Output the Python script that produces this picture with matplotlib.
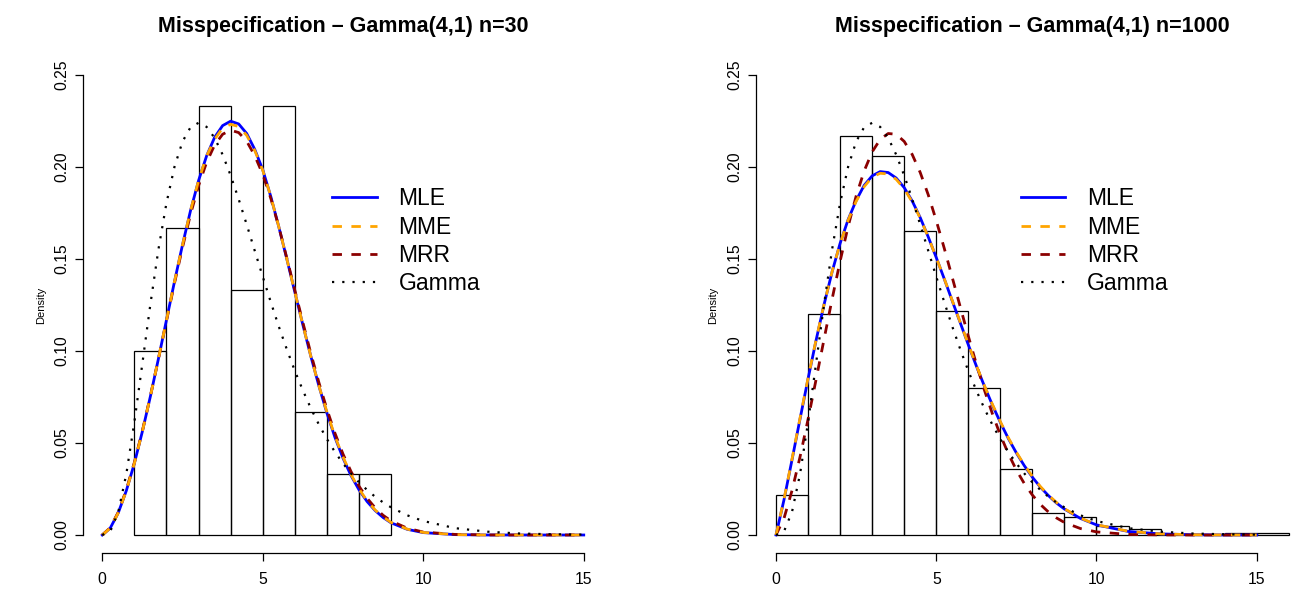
import numpy as np
import matplotlib.pyplot as plt

plt.rcParams["font.family"] = ["Liberation Sans", "DejaVu Sans"]

grid = [0, 0.25, 0.5, 0.75, 1, 1.25, 1.5, 1.75, 2, 2.25, 2.5, 2.75, 3, 3.25,
        3.5, 3.75, 4, 4.25, 4.5, 4.75, 5, 5.25, 5.5, 5.75, 6, 6.25, 6.5, 6.75,
        7, 7.25, 7.5, 7.75, 8, 8.25, 8.5, 8.75, 9, 9.5, 10, 11, 12, 13, 14, 15]

# true Gamma(4,1) density (same in both panels)
gamma_true = [0, .0020, .0126, .0332, .0613, .0933, .1255, .1552, .1804, .2001,
              .2138, .2216, .2240, .2218, .2158, .2067, .1954, .1825, .1687,
              .1545, .1404, .1266, .1133, .1009, .0892, .0786, .0688, .0600,
              .0521, .0451, .0389, .0334, .0286, .0245, .0208, .0177, .0150,
              .0107, .0076, .0037, .0018, .0008, .0004, .0002]

# n = 30
left_bins = [1, 2, 3, 4, 5, 6, 7, 8]
left_dens = [0.1, 0.1667, 0.2333, 0.1333, 0.2333, 0.0667, 0.0333, 0.0333]
left_mle = [0, .0038, .0121, .0241, .0389, .0563, .0754, .0958, .1168, .1377,
            .1577, .1763, .1926, .2060, .2161, .2225, .2249, .2234, .2182,
            .2096, .1985, .1840, .1675, .1500, .1320, .1142, .0970, .0810,
            .0662, .0530, .0418, .0323, .0245, .0182, .0133, .0095, .0066,
            .0031, .0013, .0002, 0, 0, 0, 0]
left_mme = [0, .0038, .0121, .0241, .0389, .0563, .0754, .0958, .1168, .1377,
            .1577, .1763, .1926, .2060, .2150, .2212, .2232, .2220, .2172,
            .2090, .1982, .1840, .1675, .1500, .1320, .1142, .0970, .0810,
            .0668, .0536, .0424, .0328, .0250, .0186, .0136, .0098, .0068,
            .0032, .0014, .0002, 0, 0, 0, 0]
left_mrr = [0, .0040, .0125, .0246, .0394, .0566, .0756, .0957, .1163, .1368,
            .1563, .1743, .1898, .2025, .2119, .2178, .2200, .2187, .2140,
            .2062, .1960, .1830, .1675, .1505, .1330, .1155, .0985, .0828,
            .0683, .0553, .0440, .0345, .0265, .0200, .0148, .0107, .0076,
            .0037, .0016, .0003, .00004, 0, 0, 0]

# n = 1000
right_bins = [0, 1, 2, 3, 4, 5, 6, 7, 8, 9, 10, 11, 12, 13, 14, 15]
right_dens = [0.022, 0.120, 0.217, 0.206, 0.165, 0.122, 0.080, 0.036, 0.012,
              0.010, 0.005, 0.003, 0.0, 0.0, 0.001, 0.001]
right_mle = [0, .0192, .0409, .0631, .0849, .1058, .1253, .1430, .1585, .1714,
             .1818, .1900, .1952, .1975, .1970, .1940, .1888, .1815, .1725,
             .1620, .1508, .1392, .1272, .1153, .1034, .0919, .0810, .0707,
             .0612, .0524, .0446, .0376, .0314, .0260, .0214, .0174, .0141,
             .0090, .0055, .0019, .0006, .00015, .00003, 0]
right_mme = [0, .0195, .0413, .0636, .0853, .1061, .1255, .1431, .1584, .1711,
             .1813, .1893, .1945, .1966, .1962, .1933, .1882, .1810, .1722,
             .1619, .1508, .1393, .1274, .1155, .1037, .0922, .0813, .0711,
             .0616, .0528, .0450, .0380, .0318, .0263, .0217, .0177, .0143,
             .0092, .0056, .0020, .0006, .00015, .00003, 0]
right_mrr = [0, .0091, .0242, .0425, .0629, .0845, .1065, .1282, .1488, .1677,
             .1842, .1978, .2082, .2150, .2182, .2178, .2139, .2068, .1970,
             .1849, .1709, .1558, .1399, .1239, .1081, .0930, .0789, .0660,
             .0543, .0442, .0353, .0279, .0217, .0166, .0125, .0093, .0068,
             .0035, .0017, .0003, .00005, 0, 0, 0]

xticks = [0, 5, 10, 15]
yticks = [0.0, 0.05, 0.10, 0.15, 0.20, 0.25]

DASH = (3.4, 3.4)
DOT = (1, 3.6)


def draw_panel(ax, bins, dens, mle, mme, mrr, title, xlim):
    ax.bar(bins, dens, width=1, align="edge", fill=False, edgecolor="black",
           linewidth=0.9)
    ax.plot(grid, mle, color="#0000FF", lw=2.0)
    ax.plot(grid, mrr, color="#8B0000", lw=2.0, dashes=DASH)
    ax.plot(grid, mme, color="#FFA500", lw=2.0, dashes=DASH)
    ax.plot(grid, gamma_true, color="black", lw=1.6, dashes=DOT)

    # legend in R order
    handles = [
        plt.Line2D([], [], color="#0000FF", lw=2.0),
        plt.Line2D([], [], color="#FFA500", lw=2.0, dashes=DASH),
        plt.Line2D([], [], color="#8B0000", lw=2.0, dashes=DASH),
        plt.Line2D([], [], color="black", lw=1.6, dashes=DOT),
    ]
    ax.legend(handles, ["MLE", "MME", "MRR", "Gamma"], loc="upper left",
              bbox_to_anchor=(0.479, 0.737), frameon=False, fontsize=16.5,
              borderpad=0, borderaxespad=0, handlelength=1.95,
              handletextpad=0.95, labelspacing=0.23)

    ax.set_xlim(*xlim)
    ax.set_ylim(-0.01, 0.26)
    for s in ["top", "right"]:
        ax.spines[s].set_visible(False)
    ax.spines["left"].set_bounds(0, 0.25)
    ax.spines["bottom"].set_bounds(0, 15)
    ax.set_xticks(xticks)
    ax.set_xticklabels([str(t) for t in xticks])
    ax.set_yticks(yticks)
    ax.set_yticklabels([f"{t:.2f}" for t in yticks], rotation=90, va="center")
    ax.tick_params(axis="both", length=5.5, width=0.9, labelsize=11.3,
                   colors="black")
    ax.tick_params(axis="x", pad=8)
    ax.tick_params(axis="y", pad=4)
    for s in ["left", "bottom"]:
        ax.spines[s].set_linewidth(0.9)
    ax.set_ylabel("Density", fontsize=8)
    ax.set_title(title, fontsize=15.5, fontweight="bold", pad=18)


fig = plt.figure(figsize=(12.91, 5.93), dpi=100)
ax1 = fig.add_axes([83 / 1291, 39.6 / 593, 520 / 1291, 496.8 / 593])
ax2 = fig.add_axes([755.5 / 1291, 39.6 / 593, 553.8 / 1291, 496.8 / 593])

draw_panel(ax1, left_bins, left_dens, left_mle, left_mme, left_mrr,
           "Misspecification \u2013 Gamma(4,1) n=30", (-0.6, 15.6))
draw_panel(ax2, right_bins, right_dens, right_mle, right_mme, right_mrr,
           "Misspecification \u2013 Gamma(4,1) n=1000", (-0.64, 16.64))
ax1.yaxis.set_label_coords(-37 / 520, 0.5)
ax2.yaxis.set_label_coords(-37 / 553.8, 0.5)

fig.savefig("out.png", dpi=100)
plt.close(fig)
